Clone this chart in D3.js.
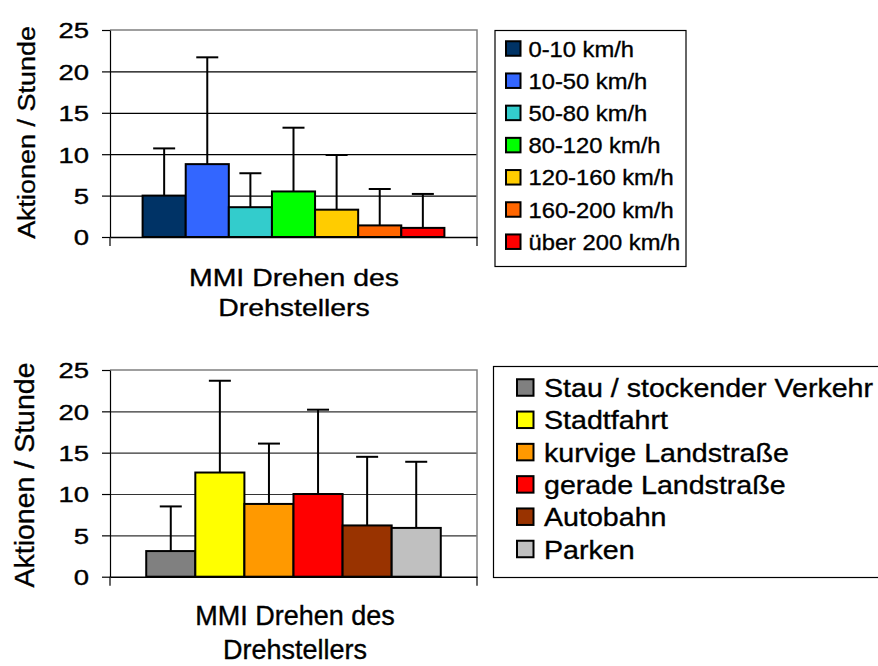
<!DOCTYPE html>
<html><head><meta charset="utf-8">
<script src="https://cdn.jsdelivr.net/npm/d3@7"></script>
<style>
html,body{margin:0;padding:0;background:#fff;}
svg{display:block;font-family:"Liberation Sans",Arial,sans-serif;}
svg text{stroke:#000;stroke-width:0.35px;}
</style></head>
<body>
<svg id="c" width="878" height="666"></svg>
<script>
// ---- data ----
const category = "MMI Drehen des Drehstellers";
const categoryLines = ["MMI Drehen des", "Drehstellers"];
const yTicks = [0, 5, 10, 15, 20, 25];
const yTitle = "Aktionen / Stunde";

const speedSeries = ["0-10 km/h", "10-50 km/h", "50-80 km/h", "80-120 km/h", "120-160 km/h", "160-200 km/h", "über 200 km/h"];
const speedValues = [5.0, 8.8, 3.6, 5.5, 3.3, 1.4, 1.1];
const speedErrors = [5.7, 12.9, 4.1, 7.7, 6.6, 4.4, 4.1];
const speedColors = ["#003366", "#3366FF", "#33CCCC", "#00FF00", "#FFCC00", "#FF6600", "#FF0000"];

const roadSeries = ["Stau / stockender Verkehr", "Stadtfahrt", "kurvige Landstraße", "gerade Landstraße", "Autobahn", "Parken"];
const roadValues = [3.1, 12.6, 8.8, 10.0, 6.2, 5.9];
const roadErrors = [5.4, 11.1, 7.3, 10.2, 8.3, 8.0];
const roadColors = ["#808080", "#FFFF00", "#FF9900", "#FF0000", "#993300", "#C0C0C0"];

const svg = d3.select("#c");

function drawChart(cfg) {
  const g = svg.append("g");
  const L = 110, R = 477, T = cfg.top, B = cfg.bottom;
  const y = d3.scaleLinear().domain([0, 25]).range([B, T]);
  const x0 = d3.scaleBand().domain([category]).range([L, R]).paddingOuter(cfg.pad).paddingInner(0);
  const x1 = d3.scaleBand().domain(cfg.series).range([x0(category), x0(category) + x0.bandwidth()]).padding(0);

  // gridlines
  g.append("g").attr("transform", `translate(${L},0)`)
    .call(d3.axisLeft(y).tickValues(yTicks.filter(t => t > 0 && t < 25)).tickSize(-(R - L)).tickFormat(""))
    .call(a => a.select(".domain").remove())
    .call(a => a.selectAll("line").attr("stroke", cfg.gridColor).attr("stroke-width", 1.2));

  // plot border top/right (grey)
  g.append("path").attr("d", `M${L},${T}H${R}V${B}`).attr("fill", "none").attr("stroke", "#808080").attr("stroke-width", 1.5);

  // bars
  cfg.series.forEach((s, i) => {
    g.append("rect")
      .attr("x", x1(s)).attr("y", y(cfg.values[i]))
      .attr("width", x1.bandwidth()).attr("height", y(0) - y(cfg.values[i]))
      .attr("fill", cfg.colors[i]).attr("stroke", "#000").attr("stroke-width", 2);
  });
  // error bars
  cfg.series.forEach((s, i) => {
    const cx = x1(s) + x1.bandwidth() / 2;
    const v = cfg.values[i], e = cfg.errors[i];
    g.append("line").attr("x1", cx).attr("x2", cx).attr("y1", y(v)).attr("y2", y(v + e))
      .attr("stroke", "#000").attr("stroke-width", 2);
    g.append("line").attr("x1", cx - 11).attr("x2", cx + 11).attr("y1", y(v + e)).attr("y2", y(v + e))
      .attr("stroke", "#000").attr("stroke-width", 2);
  });

  // y axis
  const ya = g.append("g").attr("transform", `translate(${L},0)`)
    .call(d3.axisLeft(y).tickValues(yTicks).tickSize(8).tickSizeOuter(0));
  ya.select(".domain").attr("stroke", "#000").attr("stroke-width", 1.2);
  ya.selectAll("line").attr("stroke", "#000").attr("stroke-width", 1.2);
  ya.selectAll("text")
    .attr("x", null).attr("dy", null)
    .attr("transform", d => `translate(-21,${cfg.tickDy}) scale(${cfg.tickSx},1)`)
    .attr("font-size", cfg.tickFont).attr("fill", "#000")
    .attr("font-family", '"Liberation Sans",Arial,sans-serif');

  // x axis (baseline)
  const xa = g.append("g").attr("transform", `translate(0,${B})`)
    .call(d3.axisBottom(x0).tickSize(0).tickFormat(""));
  xa.select(".domain").attr("stroke", "#000").attr("stroke-width", 1.5);
  // category boundary ticks
  [L, R].forEach(xx => g.append("line").attr("x1", xx).attr("x2", xx).attr("y1", B).attr("y2", B + cfg.xTick)
    .attr("stroke", "#000").attr("stroke-width", 1.2));

  // category label
  categoryLines.forEach((t, k) => {
    g.append("text")
      .attr("transform", `translate(${cfg.catX},${cfg.catBase + k * cfg.catLine}) scale(${cfg.catSx},1)`)
      .attr("text-anchor", "middle").attr("font-size", cfg.catFont).attr("fill", "#000").text(t);
  });

  // y title
  g.append("text")
    .attr("transform", `translate(${cfg.titleX},${cfg.titleY}) rotate(-90) scale(${cfg.titleSx},1)`)
    .attr("text-anchor", "middle").attr("font-size", cfg.titleFont).attr("fill", "#000").text(yTitle);

  // legend
  const lg = g.append("g");
  lg.append("rect").attr("x", cfg.leg.x).attr("y", cfg.leg.y).attr("width", cfg.leg.w).attr("height", cfg.leg.h)
    .attr("fill", "#fff").attr("stroke", "#000").attr("stroke-width", 1.2);
  cfg.series.forEach((s, i) => {
    const cy = cfg.leg.first + i * cfg.leg.step;
    lg.append("rect").attr("x", cfg.leg.sqX).attr("y", cy - cfg.leg.sq / 2)
      .attr("width", cfg.leg.sq).attr("height", cfg.leg.sq)
      .attr("fill", cfg.colors[i]).attr("stroke", "#000").attr("stroke-width", 2);
    lg.append("text")
      .attr("transform", `translate(${cfg.leg.textX},${cy + cfg.leg.dy}) scale(${cfg.leg.sx},1)`)
      .attr("font-size", cfg.leg.font).attr("fill", "#000").text(s);
  });
}

drawChart({
  top: 30, bottom: 237, pad: 0.108,
  series: speedSeries, values: speedValues, errors: speedErrors, colors: speedColors,
  gridColor: "#000",
  tickFont: 22, tickSx: 1.25, tickDy: 7.8,
  xTick: 9,
  catX: 294, catBase: 286, catLine: 30, catFont: 24.5, catSx: 1.16,
  titleX: 35, titleY: 132.5, titleFont: 24.5, titleSx: 1.1,
  leg: { x: 495, y: 30.5, w: 191, h: 236, first: 48.5, step: 32.2, sq: 14.5, sqX: 506, textX: 528.5, dy: 8, font: 22, sx: 1.08 }
});

drawChart({
  top: 370, bottom: 576.7, pad: 0.123,
  series: roadSeries, values: roadValues, errors: roadErrors, colors: roadColors,
  gridColor: "#333",
  tickFont: 22, tickSx: 1.25, tickDy: 7.8,
  xTick: 9,
  catX: 295, catBase: 625, catLine: 34, catFont: 27, catSx: 1.0,
  titleX: 33.5, titleY: 475, titleFont: 28.5, titleSx: 1.0,
  leg: { x: 493.5, y: 366.5, w: 400, h: 211, first: 387.5, step: 32.3, sq: 16.5, sqX: 517, textX: 544, dy: 9.5, font: 26, sx: 1.1 }
});
</script>
</body></html>
